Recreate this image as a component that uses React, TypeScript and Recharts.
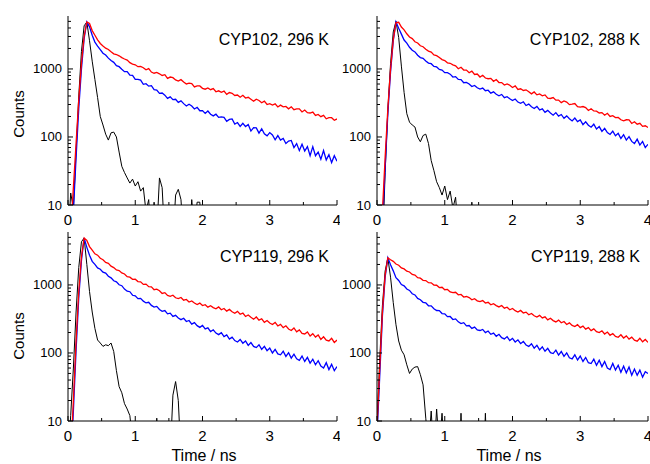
import { LineChart, Line, XAxis, YAxis } from "recharts";

const FONT = "'Liberation Sans', Arial, Helvetica, sans-serif";

// time axis (ns)
const time = [
  0, 0.04, 0.08, 0.12, 0.16, 0.2, 0.24, 0.28, 0.32, 0.36,
  0.4, 0.44, 0.48, 0.52, 0.56, 0.6, 0.64, 0.68, 0.72, 0.76,
  0.8, 0.84, 0.88, 0.92, 0.96, 1, 1.04, 1.08, 1.12, 1.16,
  1.2, 1.24, 1.28, 1.32, 1.36, 1.4, 1.44, 1.48, 1.52, 1.56,
  1.6, 1.64, 1.68, 1.72, 1.76, 1.8, 1.84, 1.88, 1.92, 1.96,
  2, 2.04, 2.08, 2.12, 2.16, 2.2, 2.24, 2.28, 2.32, 2.36,
  2.4, 2.44, 2.48, 2.52, 2.56, 2.6, 2.64, 2.68, 2.72, 2.76,
  2.8, 2.84, 2.88, 2.92, 2.96, 3, 3.04, 3.08, 3.12, 3.16,
  3.2, 3.24, 3.28, 3.32, 3.36, 3.4, 3.44, 3.48, 3.52, 3.56,
  3.6, 3.64, 3.68, 3.72, 3.76, 3.8, 3.84, 3.88, 3.92, 3.96,
  4,
];

// CYP102, 296 K
const red102_296 = [
  1, 4, 18, 80, 350, 1200, 3000, 4900, 4650, 3660,
  3130, 2680, 2370, 2180, 2020, 1930, 1790, 1670, 1630, 1560,
  1465, 1400, 1350, 1235, 1180, 1150, 1080, 1085, 1040, 970,
  1010, 900, 865, 887, 848, 802, 822, 727, 760, 745,
  689, 662, 696, 644, 601, 620, 608, 544, 563, 562,
  519, 504, 525, 495, 515, 462, 477, 454, 472, 423,
  450, 438, 407, 414, 384, 410, 373, 383, 359, 336,
  359, 344, 319, 337, 300, 309, 295, 307, 276, 294,
  277, 281, 259, 278, 252, 258, 259, 233, 249, 228,
  225, 232, 207, 214, 199, 208, 185, 192, 192, 176,
  184,
];
const blue102_296 = [
  1, 2, 8, 50, 260, 1000, 2800, 4900, 4160, 3120,
  2480, 2170, 1920, 1700, 1600, 1440, 1330, 1250, 1120, 1080,
  990, 912, 915, 813, 803, 701, 702, 686, 594, 607,
  559, 567, 495, 490, 437, 443, 412, 369, 389, 354,
  358, 322, 339, 309, 285, 302, 285, 258, 273, 243,
  244, 222, 241, 216, 204, 216, 194, 197, 194, 170,
  181, 184, 155, 163, 143, 159, 142, 152, 122, 137,
  136, 114, 132, 111, 104, 116, 107, 91, 105, 90,
  95, 80, 87, 89, 70, 80, 63, 78, 62, 72,
  53, 72, 53, 60, 47, 63, 46, 55, 42, 53,
  44,
];
const irf102_296 = [
  3, 15, 9, 60, 400, 1800, 4300, 4900, 2600, 1300,
  700, 380, 200, 150, 110, 90, 115, 118, 100, 60,
  37, 30, 25, 21, 24, 19, 22, 16, 18, 8,
  12, 3, 11, 4, 25, 18, 3, 4, 2, 3,
  14, 17, 12, 3, 2, 3, 12, 4, 11, 11,
  3,
];

// CYP102, 288 K
const red102_288 = [
  1, 2, 8, 50, 260, 1000, 2700, 4800, 4850, 4130,
  3760, 3290, 2950, 2790, 2510, 2410, 2190, 2120, 1950, 1830,
  1770, 1610, 1570, 1470, 1370, 1330, 1230, 1210, 1150, 1110,
  1005, 1060, 965, 960, 878, 930, 830, 842, 760, 806,
  735, 718, 726, 658, 698, 632, 631, 581, 603, 576,
  534, 562, 499, 511, 482, 493, 461, 430, 459, 416,
  430, 402, 415, 373, 368, 380, 348, 349, 320, 338,
  326, 299, 303, 310, 279, 274, 280, 270, 245, 260,
  241, 239, 225, 228, 209, 223, 200, 206, 193, 194,
  179, 173, 179, 178, 158, 167, 154, 159, 143, 146,
  138,
];
const blue102_288 = [
  1, 1, 5, 35, 220, 900, 2600, 4900, 3960, 3250,
  2660, 2390, 2080, 1880, 1780, 1590, 1470, 1430, 1310, 1220,
  1195, 1090, 1070, 985, 965, 880, 880, 838, 760, 772,
  702, 698, 627, 633, 600, 551, 571, 529, 506, 524,
  478, 487, 440, 460, 425, 404, 422, 378, 391, 364,
  343, 362, 326, 312, 329, 290, 304, 278, 262, 281,
  249, 259, 230, 246, 225, 209, 228, 203, 214, 188,
  204, 185, 172, 190, 168, 178, 152, 167, 149, 139,
  154, 131, 142, 121, 134, 116, 109, 122, 104, 113,
  95, 108, 90, 101, 86, 80, 93, 76, 86, 70,
  78,
];
const irf102_288 = [
  1, 1, 2, 30, 250, 1200, 3500, 5000, 2900, 1100,
  450, 220, 165, 150, 140, 100, 85, 105, 110, 80,
  45, 32, 22, 18, 14, 19, 12, 16, 9, 13,
  4, 2, 1, 2, 3, 11, 3,
];

// CYP119, 296 K
const red119_296 = [
  1, 3, 20, 150, 800, 2600, 4900, 4520, 3660, 3240,
  2870, 2740, 2470, 2350, 2140, 2080, 1890, 1800, 1660, 1630,
  1500, 1450, 1320, 1300, 1210, 1215, 1120, 1110, 1020, 1030,
  945, 935, 850, 868, 822, 749, 770, 702, 680, 705,
  648, 630, 655, 596, 612, 561, 583, 542, 516, 541,
  498, 512, 471, 496, 465, 447, 475, 432, 451, 412,
  437, 404, 384, 408, 371, 385, 344, 361, 336, 314,
  338, 304, 318, 282, 300, 276, 262, 281, 249, 263,
  236, 251, 225, 214, 233, 205, 218, 194, 190, 204,
  177, 192, 171, 184, 158, 173, 154, 150, 164, 143,
  155,
];
const blue119_296 = [
  1, 2, 14, 110, 650, 2300, 4900, 3570, 2740, 2220,
  2010, 1780, 1700, 1545, 1490, 1345, 1270, 1150, 1110, 1005,
  975, 870, 810, 795, 705, 690, 628, 634, 578, 544,
  556, 500, 472, 483, 436, 410, 420, 376, 385, 344,
  358, 327, 309, 324, 290, 300, 266, 279, 252, 238,
  254, 226, 234, 206, 219, 196, 186, 199, 174, 184,
  160, 171, 152, 145, 158, 139, 150, 129, 142, 125,
  120, 132, 113, 125, 108, 118, 100, 113, 97, 94,
  106, 89, 101, 84, 96, 82, 78, 90, 75, 86,
  71, 81, 67, 77, 64, 60, 72, 57, 68, 55,
  63,
];
const irf119_296 = [
  3, 12, 60, 400, 1800, 4300, 4900, 2000, 800, 400,
  230, 155, 140, 125, 132, 128, 140, 105, 55, 32,
  26, 18, 15, 12, 5, 3, 1, 1, 1, 1,
  1, 1, 1, 11, 1, 1, 1, 1, 3, 24,
  38, 20, 3,
];

// CYP119, 288 K
const red119_288 = [
  8, 60, 400, 1400, 2500, 2350, 2220, 2030, 1950, 1780,
  1720, 1590, 1550, 1430, 1395, 1280, 1255, 1170, 1160, 1080,
  1075, 995, 990, 915, 925, 850, 858, 790, 770, 780,
  716, 725, 664, 676, 652, 604, 628, 584, 568, 590,
  541, 556, 510, 530, 497, 475, 498, 455, 470, 432,
  450, 418, 400, 422, 387, 398, 364, 381, 352, 338,
  357, 327, 340, 307, 324, 299, 286, 304, 278, 290,
  262, 277, 254, 244, 261, 236, 248, 224, 236, 213,
  226, 206, 199, 212, 190, 203, 182, 193, 175, 170,
  185, 166, 178, 160, 171, 154, 149, 164, 146, 158,
  143,
];
const blue119_288 = [
  6, 45, 350, 1300, 2500, 1980, 1610, 1280, 1165, 1015,
  970, 872, 830, 742, 712, 633, 606, 555, 546, 494,
  492, 446, 421, 420, 380, 376, 342, 344, 310, 317,
  287, 270, 279, 250, 253, 230, 240, 218, 214, 222,
  199, 210, 188, 196, 176, 188, 168, 161, 174, 152,
  164, 145, 156, 137, 148, 131, 125, 137, 118, 130,
  111, 123, 106, 117, 101, 98, 110, 93, 105, 89,
  100, 85, 82, 94, 79, 90, 75, 86, 72, 70,
  81, 66, 78, 63, 75, 60, 57, 70, 56, 66,
  52, 64, 51, 62, 47, 58, 47, 56, 44, 53,
  50,
];
const irf119_288 = [
  8, 80, 500, 1600, 2500, 1300, 550, 260, 150, 110,
  94, 67, 50, 58, 62, 63, 48, 34, 11, 4,
  14, 3, 15, 4, 13, 3, 1, 1, 1, 1,
  1, 13, 1, 1, 1, 1, 1, 1, 1, 1,
  13, 1,
];

const xTicks = [0, 0.5, 1, 1.5, 2, 2.5, 3, 3.5, 4];
const yTicks = [
  10, 20, 30, 40, 50, 60, 70, 80, 90,
  100, 200, 300, 400, 500, 600, 700, 800, 900,
  1000, 2000, 3000, 4000, 5000,
];
const yLabels = [10, 100, 1000];

const XTick = (props: any) => {
  const { x, y, payload } = props;
  const major = Number.isInteger(payload.value);
  return (
    <g>
      <line x1={x} x2={x} y1={y} y2={y - (major ? 5 : 3)} stroke="#000" />
      {major && (
        <text x={x} y={y + 20} textAnchor="middle" fontSize={15} fontFamily={FONT} fill="#000">
          {payload.value}
        </text>
      )}
    </g>
  );
};

const YTick = (props: any) => {
  const { x, y, payload } = props;
  const major = yLabels.includes(payload.value);
  return (
    <g>
      <line x1={x} x2={x + (major ? 5 : 3)} y1={y} y2={y} stroke="#000" />
      {major && (
        <text x={x - 6} y={y + 4.5} textAnchor="end" fontSize={13} fontFamily={FONT} fill="#000">
          {payload.value}
        </text>
      )}
    </g>
  );
};

type PanelProps = {
  left: number;
  top: number;
  width: number;
  right: number;
  red: number[];
  blue: number[];
  irf: number[];
};

function Panel({ left, top, width, right, red, blue, irf }: PanelProps) {
  const data = time.map((t, i) => ({
    t,
    red: red[i],
    blue: blue[i],
    irf: irf[i] ?? null,
  }));
  return (
    <div style={{ position: "absolute", left, top }}>
      <LineChart width={width} height={230} data={data} margin={{ top: 16, right, bottom: 0, left: 0 }}>
        <XAxis
          dataKey="t"
          type="number"
          domain={[0, 4]}
          ticks={xTicks}
          interval={0}
          allowDataOverflow
          height={25}
          tickSize={0}
          tickMargin={0}
          tickLine={false}
          axisLine={{ stroke: "#000" }}
          tick={(p: any) => <XTick {...p} />}
        />
        <XAxis
          xAxisId="top"
          orientation="top"
          dataKey="t"
          type="number"
          domain={[0, 4]}
          height={0}
          tick={false}
          tickLine={false}
          axisLine={{ stroke: "#000" }}
        />
        <YAxis
          type="number"
          scale="log"
          domain={[10, 6000]}
          ticks={yTicks}
          interval={0}
          allowDataOverflow
          width={68}
          tickSize={0}
          tickMargin={0}
          tickLine={false}
          axisLine={{ stroke: "#000" }}
          tick={(p: any) => <YTick {...p} />}
        />
        <YAxis
          yAxisId="right"
          orientation="right"
          type="number"
          domain={[0, 1]}
          width={0}
          tick={false}
          tickLine={false}
          axisLine={{ stroke: "#000" }}
        />
        <Line dataKey="irf" stroke="#000" strokeWidth={1} dot={false} isAnimationActive={false} />
        <Line dataKey="blue" stroke="#0000ff" strokeWidth={1.3} dot={false} isAnimationActive={false} />
        <Line dataKey="red" stroke="#ff0000" strokeWidth={1.3} dot={false} isAnimationActive={false} />
      </LineChart>
    </div>
  );
}

export default function App() {
  const txt = { fontFamily: FONT, fill: "#000" };
  return (
    <div style={{ position: "absolute", left: 0, top: 0, width: 650, height: 464, background: "#fff" }}>
      <Panel left={0} top={0} width={340} right={3} red={red102_296} blue={blue102_296} irf={irf102_296} />
      <Panel left={309} top={0} width={341} right={2} red={red102_288} blue={blue102_288} irf={irf102_288} />
      <Panel left={0} top={216} width={340} right={3} red={red119_296} blue={blue119_296} irf={irf119_296} />
      <Panel left={309} top={216} width={341} right={2} red={red119_288} blue={blue119_288} irf={irf119_288} />
      <svg width={650} height={464} style={{ position: "absolute", left: 0, top: 0, pointerEvents: "none" }}>
        <text x={329} y={45} textAnchor="end" fontSize={16} {...txt}>CYP102, 296 K</text>
        <text x={640} y={45} textAnchor="end" fontSize={16} {...txt}>CYP102, 288 K</text>
        <text x={329} y={262} textAnchor="end" fontSize={16} {...txt}>CYP119, 296 K</text>
        <text x={640} y={262} textAnchor="end" fontSize={16} {...txt}>CYP119, 288 K</text>
        <text transform="translate(24,114) rotate(-90)" textAnchor="middle" fontSize={15} {...txt}>Counts</text>
        <text transform="translate(24,336) rotate(-90)" textAnchor="middle" fontSize={15} {...txt}>Counts</text>
        <text x={204} y={461} textAnchor="middle" fontSize={16} {...txt}>Time / ns</text>
        <text x={509} y={461} textAnchor="middle" fontSize={16} {...txt}>Time / ns</text>
      </svg>
    </div>
  );
}
